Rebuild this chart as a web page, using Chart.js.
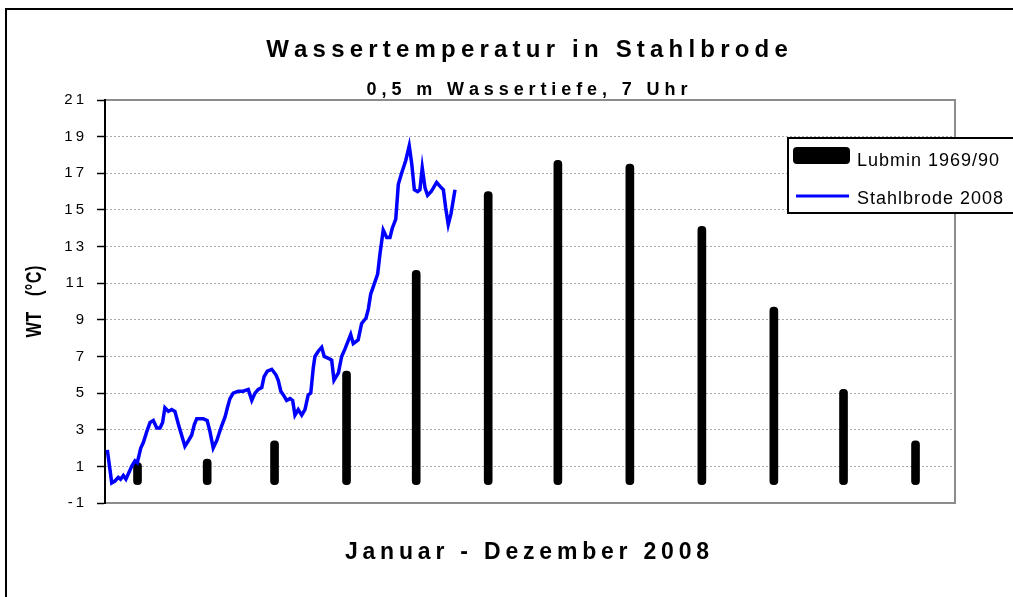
<!DOCTYPE html>
<html>
<head>
<meta charset="utf-8">
<title>Wassertemperatur in Stahlbrode</title>
<script src="https://cdn.jsdelivr.net/npm/chart.js@4.4.0/dist/chart.umd.min.js"></script>
<style>
    body { margin: 0; background: #fff; overflow: hidden; }
    #wrap { position: relative; width: 1013px; height: 597px; }
</style>
</head>
<body>
<div id="wrap"><canvas id="wtChart" width="1013" height="597"></canvas></div>
<script>
// Lubmin 1969/90 monthly means (day of year of mid month)
const lubminDays = [14, 44, 73, 104, 134, 165, 195, 226, 257, 288, 318, 349];
const lubminTemp = [1.2, 1.4, 2.4, 6.2, 11.7, 16.0, 17.7, 17.5, 14.1, 9.7, 5.2, 2.4];

// Stahlbrode 2008, daily readings Jan - May (day of year)
const stahlDays = [
    1.0, 2.9, 4.3, 5.7, 6.7, 7.9, 9.0, 11.5, 12.9, 13.9, 15.4, 16.5, 18.0, 19.4, 20.8,
    22.3, 23.7, 24.8, 25.8, 27.3, 28.7, 30.1, 31.6, 33.0, 34.4, 35.9, 37.3, 38.5, 39.5,
    40.9, 42.3, 44.0, 45.2, 46.6, 48.1, 50.2, 51.7, 52.7, 53.8, 55.2, 57.4, 59.5, 61.7,
    63.2, 64.6, 66.0, 67.5, 68.5, 69.9, 71.8, 73.6, 74.6, 75.7, 76.8, 78.2, 79.7, 80.8,
    81.8, 83.2, 84.7, 86.1, 87.5, 88.6, 89.7, 90.4, 91.9, 93.3, 94.4, 96.2, 97.6, 98.6,
    100.5, 101.9, 103.3, 105.8, 106.9, 109.0, 110.5, 112.4, 113.4, 114.4, 115.5, 117.4,
    118.4, 119.8, 121.3, 122.7, 123.7, 125.2, 126.3, 127.7, 129.5, 131.0, 132.1, 133.2,
    134.6, 135.6, 136.6, 137.8, 138.9, 140.4, 141.4, 142.8, 144.2, 145.7, 146.7, 147.8,
    149.0, 150.7
];
const stahlTemp = [
    1.9, 0.1, 0.2, 0.4, 0.3, 0.5, 0.3, 1.0, 1.3, 1.2, 2.0, 2.3, 2.9, 3.4, 3.5,
    3.1, 3.1, 3.4, 4.2, 4.0, 4.1, 4.0, 3.3, 2.7, 2.1, 2.4, 2.7, 3.3, 3.6,
    3.6, 3.6, 3.5, 2.9, 2.0, 2.4, 3.2, 3.7, 4.2, 4.7, 5.0, 5.1, 5.1, 5.2,
    4.6, 5.0, 5.2, 5.3, 5.9, 6.2, 6.3, 6.0, 5.7, 5.1, 4.9, 4.6, 4.7, 4.6,
    3.8, 4.1, 3.8, 4.1, 4.9, 5.0, 6.4, 7.0, 7.3, 7.5, 7.0, 6.9, 6.8, 5.7,
    6.1, 7.0, 7.4, 8.2, 7.7, 7.9, 8.8, 9.1, 9.6, 10.4, 10.8, 11.5,
    12.6, 13.9, 13.5, 13.5, 14.0, 14.5, 16.4, 17.0, 17.7, 18.5, 17.5, 16.1,
    16.0, 16.1, 17.3, 16.2, 15.8, 16.0, 16.2, 16.5, 16.3, 16.1, 15.1, 14.2,
    14.8, 16.1
];

// y axis ticks
const yMin = -1;
const yMax = 21;
const yStep = 2;

const titleText = 'Wassertemperatur in Stahlbrode';
const subtitleText = '0,5 m Wassertiefe, 7 Uhr';
const xTitleText = 'Januar - Dezember 2008';
const yTitleText = 'WT   (°C)';

// draw text char by char, with extra spacing and optional horizontal squeeze
function spacedText(ctx, str, x, y, font, spacing, align, scaleX, rotate) {
    const sx = scaleX || 1;
    const chars = [...str];
    ctx.save();
    if ('letterSpacing' in ctx) ctx.letterSpacing = '0px';
    ctx.font = font;
    ctx.fillStyle = '#000';
    ctx.textAlign = 'left';
    ctx.textBaseline = 'alphabetic';
    ctx.translate(x, y);
    if (rotate) ctx.rotate(rotate);
    const widths = chars.map(c => ctx.measureText(c).width * sx);
    const total = widths.reduce((a, b) => a + b, 0) + spacing * (chars.length - 1);
    let cx = align === 'center' ? -total / 2 : 0;
    chars.forEach((c, i) => {
        ctx.save();
        ctx.translate(cx, 0);
        ctx.scale(sx, 1);
        ctx.fillText(c, 0, 0);
        ctx.restore();
        cx += widths[i] + spacing;
    });
    ctx.restore();
}

// Outer frame, plot border, titles and legend
const excelLook = {
    id: 'excelLook',
    beforeDraw(chart) {
        const ctx = chart.ctx;
        ctx.save();
        ctx.strokeStyle = '#000';
        ctx.lineWidth = 2;
        ctx.strokeRect(6, 9, 1100, 700);
        ctx.restore();
        if ('letterSpacing' in ctx) ctx.letterSpacing = '3px';
    },
    beforeDatasetsDraw(chart) {
        const ctx = chart.ctx;
        const a = chart.chartArea;
        ctx.save();
        ctx.strokeStyle = '#8c8c8c';
        ctx.lineWidth = 2;
        ctx.beginPath();
        ctx.moveTo(a.left, a.top);
        ctx.lineTo(a.right, a.top);
        ctx.lineTo(a.right, a.bottom);
        ctx.lineTo(a.left, a.bottom);
        ctx.stroke();
        ctx.strokeStyle = '#000';
        ctx.beginPath();
        ctx.moveTo(a.left, a.top - 1);
        ctx.lineTo(a.left, a.bottom + 1);
        ctx.stroke();
        ctx.restore();
    },
    afterDraw(chart) {
        const ctx = chart.ctx;
        const a = chart.chartArea;
        const mid = (a.left + a.right) / 2 - 3;

        spacedText(ctx, titleText, mid, 57, 'bold 24px "Liberation Sans", Arial, sans-serif', 5.2, 'center');
        spacedText(ctx, subtitleText, mid, 95, 'bold 18px "Liberation Sans", Arial, sans-serif', 4.9, 'center');
        spacedText(ctx, xTitleText, mid, 559, 'bold 23px "Liberation Sans", Arial, sans-serif', 4.8, 'center');
        spacedText(ctx, yTitleText, 41, (a.top + a.bottom) / 2, 'bold 22px "Liberation Sans", Arial, sans-serif', 0.5, 'center', 0.74, -Math.PI / 2);

        // legend box
        const lx = 788, ly = 138;
        ctx.save();
        ctx.fillStyle = '#fff';
        ctx.fillRect(lx, ly, 240, 75);
        ctx.strokeStyle = '#000';
        ctx.lineWidth = 2;
        ctx.strokeRect(lx, ly, 240, 75);

        const bars = chart.data.datasets[0];
        const line = chart.data.datasets[1];
        ctx.fillStyle = bars.backgroundColor;
        ctx.beginPath();
        ctx.roundRect(lx + 5, ly + 9, 57, 17, 4);
        ctx.fill();
        ctx.strokeStyle = line.borderColor;
        ctx.lineWidth = 3;
        ctx.beginPath();
        ctx.moveTo(lx + 8, ly + 58);
        ctx.lineTo(lx + 61, ly + 58);
        ctx.stroke();
        ctx.restore();

        spacedText(ctx, bars.label, lx + 69, ly + 28, '18px "Liberation Sans", Arial, sans-serif', 1, 'left');
        spacedText(ctx, line.label, lx + 69, ly + 66, '18px "Liberation Sans", Arial, sans-serif', 1, 'left');
    }
};

const ctx = document.getElementById('wtChart');

new Chart(ctx, {
    type: 'bar',
    data: {
        datasets: [
            {
                type: 'bar',
                label: 'Lubmin 1969/90',
                data: lubminDays.map((d, i) => ({ x: d, y: lubminTemp[i] })),
                backgroundColor: '#000',
                barThickness: 8,
                borderRadius: 4,
                borderSkipped: false,
                order: 1
            },
            {
                type: 'line',
                label: 'Stahlbrode 2008',
                data: stahlDays.map((d, i) => ({ x: d, y: stahlTemp[i] })),
                borderColor: '#0000ff',
                borderWidth: 3.5,
                pointRadius: 0,
                tension: 0,
                fill: false,
                order: 0
            }
        ]
    },
    options: {
        responsive: false,
        animation: false,
        layout: {
            padding: { top: 100, right: 58, left: 0, bottom: 0 }
        },
        plugins: {
            legend: { display: false },
            title: { display: false },
            tooltip: { enabled: false }
        },
        scales: {
            x: {
                type: 'linear',
                min: 0,
                max: 366,
                offset: false,
                grid: { display: false },
                border: { display: false },
                ticks: { display: false },
                afterFit(scale) { scale.height = 94; }
            },
            y: {
                min: yMin,
                max: yMax,
                grid: {
                    color: '#a8a8a8',
                    lineWidth: 1,
                    tickColor: '#000',
                    tickLength: 8,
                    tickWidth: 1.5
                },
                border: { color: '#000', width: 2, dash: [2, 2] },
                ticks: {
                    stepSize: yStep,
                    color: '#000',
                    padding: 10,
                    font: { family: '"Liberation Sans", Arial, sans-serif', size: 15 }
                },
                afterFit(scale) { scale.width = 105; }
            }
        }
    },
    plugins: [excelLook]
});
</script>
</body>
</html>
